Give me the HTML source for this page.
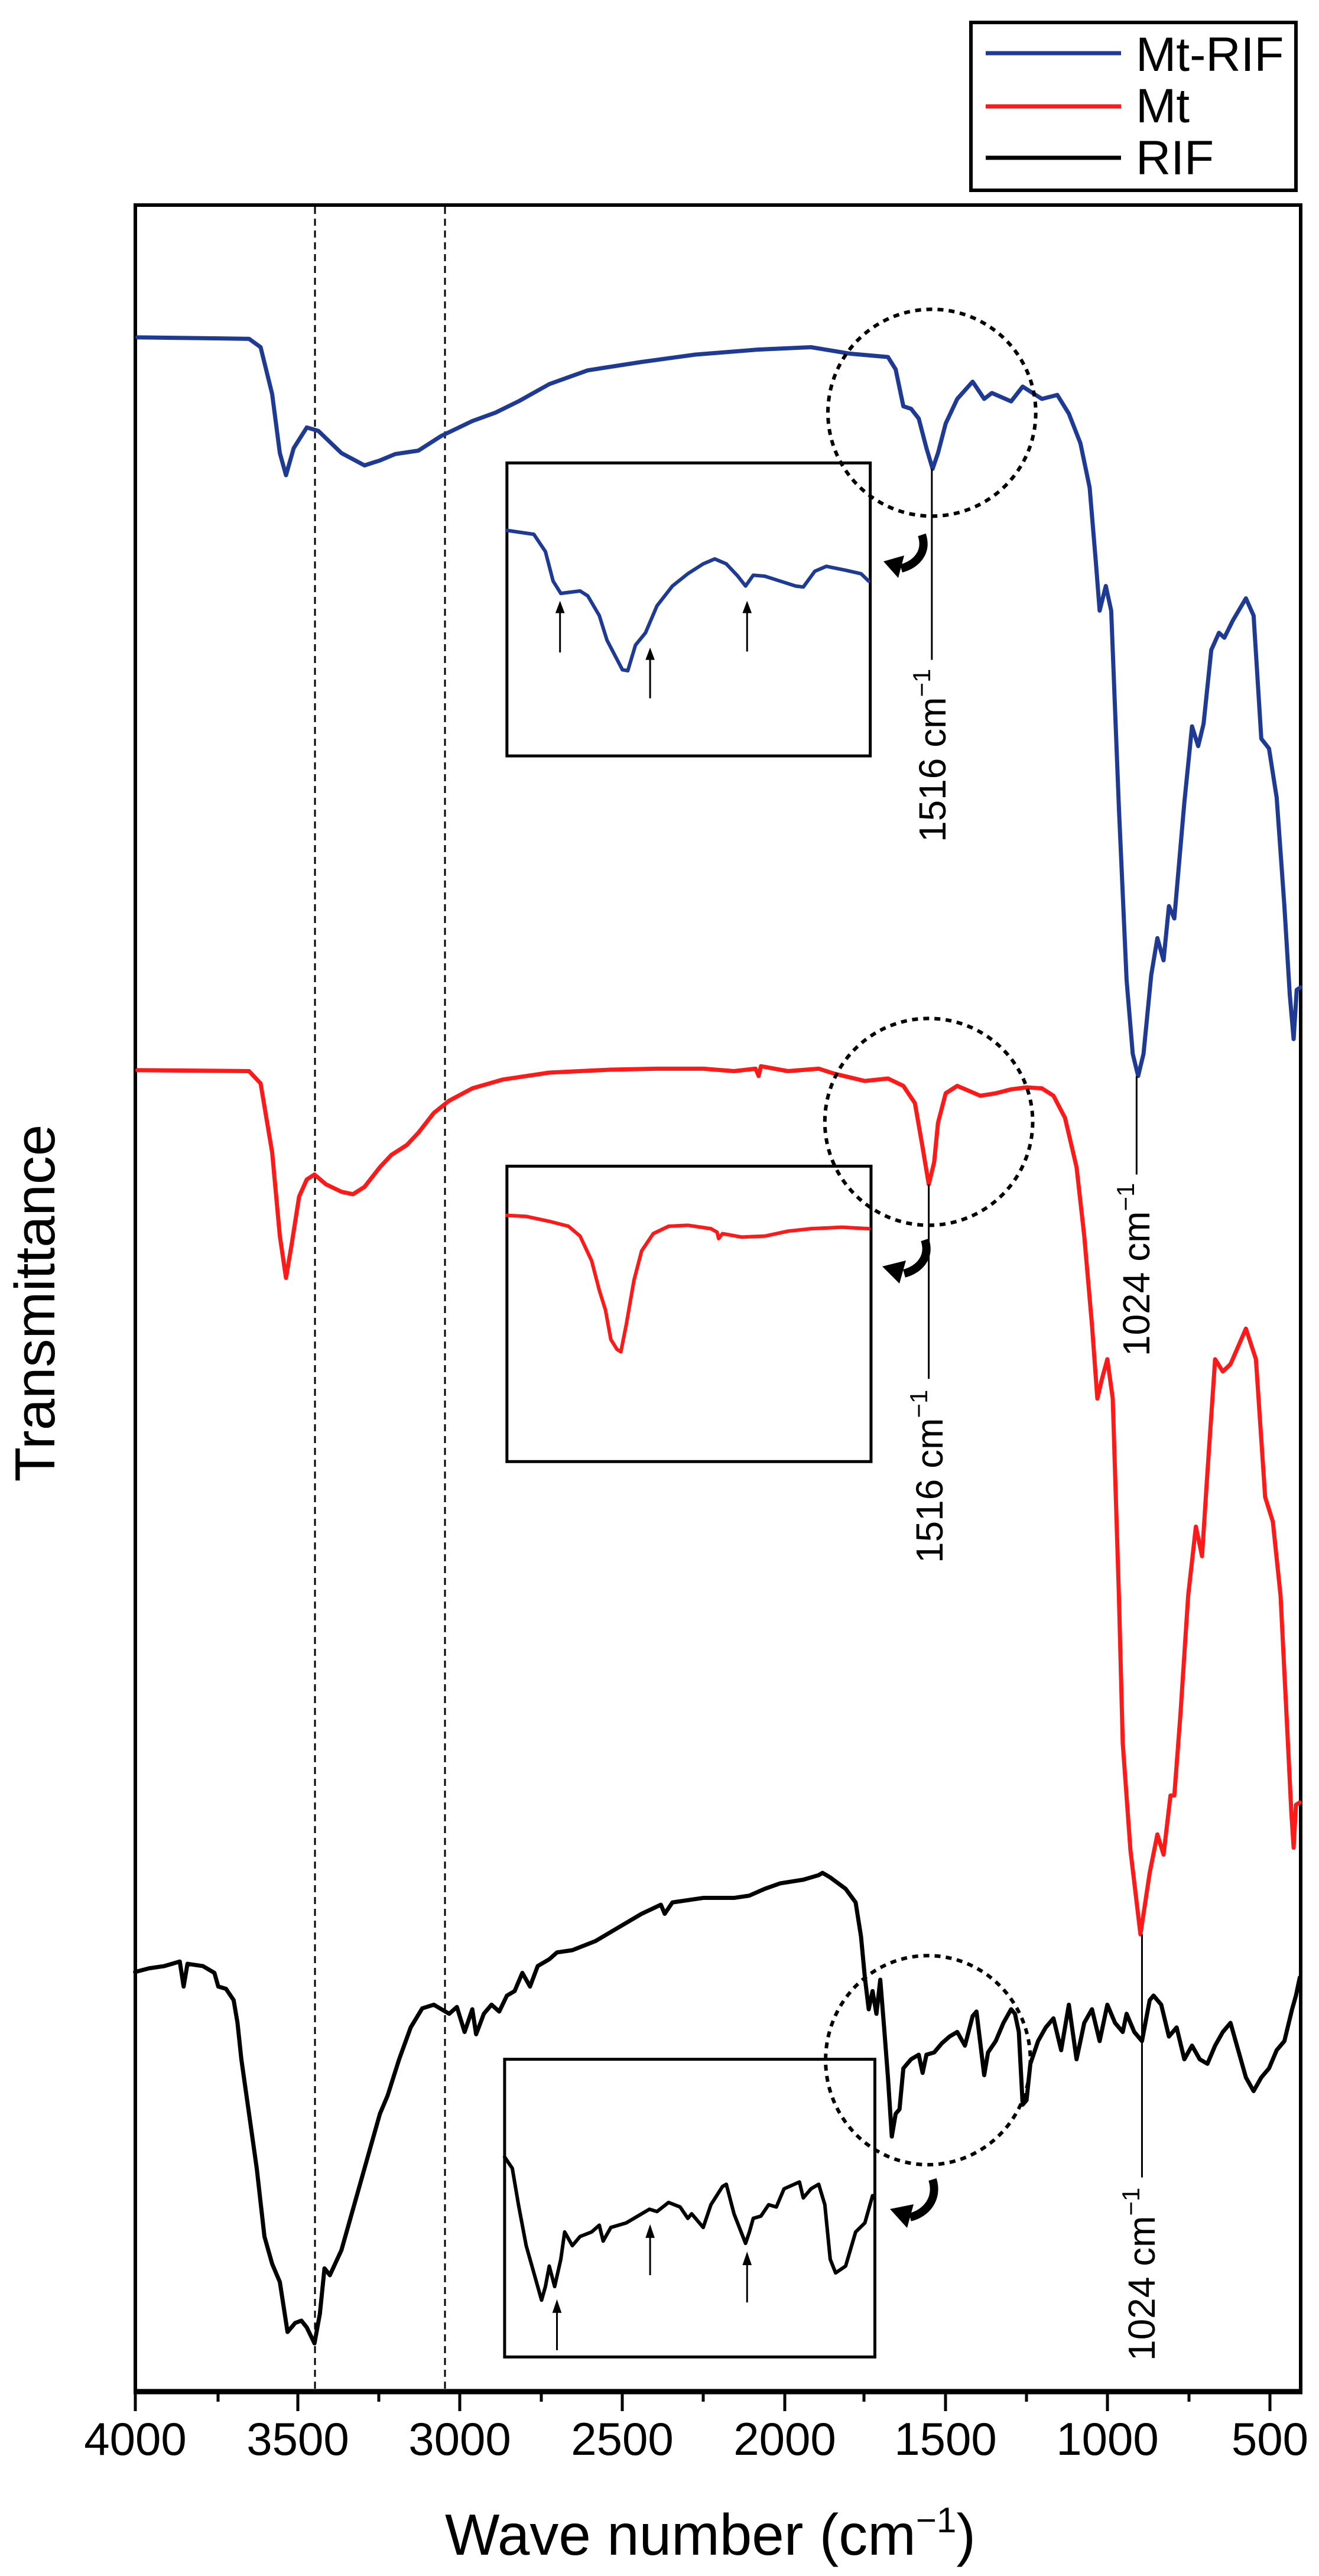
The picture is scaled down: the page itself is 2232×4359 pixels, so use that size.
<!DOCTYPE html>
<html><head><meta charset="utf-8"><style>
html,body{margin:0;padding:0;background:#fff;}
svg{display:block;}
text{font-family:"Liberation Sans",Arial,sans-serif;fill:#000;}
.c{fill:none;stroke-linejoin:round;stroke-linecap:round;}
</style></head><body>
<svg width="2232" height="4359" viewBox="0 0 2232 4359" xmlns="http://www.w3.org/2000/svg">
<rect width="2232" height="4359" fill="#fff"/>

<!-- legend -->
<rect x="1643" y="38" width="550" height="284" fill="none" stroke="#000" stroke-width="6"/>
<line x1="1668" y1="90" x2="1897" y2="90" stroke="#1f3a93" stroke-width="7"/>
<line x1="1668" y1="180" x2="1897" y2="180" stroke="#ff1a1a" stroke-width="7"/>
<line x1="1668" y1="267" x2="1897" y2="267" stroke="#000" stroke-width="7"/>
<text x="1922" y="120" font-size="82">Mt-RIF</text>
<text x="1922" y="207" font-size="82">Mt</text>
<text x="1922" y="295" font-size="82">RIF</text>

<!-- frame -->
<rect x="229" y="347" width="1972" height="3700" fill="none" stroke="#000" stroke-width="6"/>
<line x1="226" y1="4047" x2="2204" y2="4047" stroke="#000" stroke-width="9"/>

<!-- dashed lines -->
<line x1="533" y1="350" x2="533" y2="4044" stroke="#000" stroke-width="3" stroke-dasharray="12,8"/>
<line x1="753" y1="350" x2="753" y2="4044" stroke="#000" stroke-width="3" stroke-dasharray="12,8"/>

<!-- ticks -->
<g stroke="#000" stroke-width="5">
<line x1="229" y1="4047" x2="229" y2="4080"/><line x1="504" y1="4047" x2="504" y2="4080"/><line x1="778" y1="4047" x2="778" y2="4080"/><line x1="1053" y1="4047" x2="1053" y2="4080"/><line x1="1328" y1="4047" x2="1328" y2="4080"/><line x1="1600" y1="4047" x2="1600" y2="4080"/><line x1="1874" y1="4047" x2="1874" y2="4080"/><line x1="2149" y1="4047" x2="2149" y2="4080"/>
<line x1="369" y1="4047" x2="369" y2="4064"/><line x1="641" y1="4047" x2="641" y2="4064"/><line x1="916" y1="4047" x2="916" y2="4064"/><line x1="1190" y1="4047" x2="1190" y2="4064"/><line x1="1462" y1="4047" x2="1462" y2="4064"/><line x1="1737" y1="4047" x2="1737" y2="4064"/><line x1="2012" y1="4047" x2="2012" y2="4064"/>
</g>
<g font-size="78" text-anchor="middle">
<text x="229" y="4154">4000</text><text x="504" y="4154">3500</text><text x="778" y="4154">3000</text><text x="1053" y="4154">2500</text><text x="1328" y="4154">2000</text><text x="1600" y="4154">1500</text><text x="1874" y="4154">1000</text><text x="2149" y="4154">500</text>
</g>
<text x="1202" y="4323" font-size="98" text-anchor="middle">Wave number (cm<tspan dy="-38" font-size="60">−1</tspan><tspan dy="38">)</tspan></text>
<text transform="translate(92,2205) rotate(-90)" font-size="96" text-anchor="middle">Transmittance</text>

<!-- BLUE (zoom3 coords) -->
<g transform="translate(200,450) scale(1.3026,0.8333)">
<path class="c" stroke="#1f3a93" stroke-width="7" vector-effect="non-scaling-stroke" d="M25,145 L170,148 L185,165 L200,260 L210,380 L218,425 L228,370 L245,328 L260,335 L290,380 L320,405 L340,395 L360,382 L390,375 L420,345 L460,315 L490,298 L520,275 L560,240 L610,212 L680,195 L750,180 L830,170 L900,165 L950,178 L1000,185 L1010,210 L1020,285 L1030,290 L1040,310 L1050,370 L1058,412 L1065,380 L1075,320 L1090,270 L1110,235 L1125,270 L1135,258 L1160,275 L1175,245 L1190,260 L1200,270 L1220,262 L1235,300 L1250,360 L1262,450 L1270,600 L1275,700 L1283,650 L1290,700 L1300,1100 L1310,1450 L1318,1600 L1325,1645 L1332,1600 L1342,1440 L1350,1365 L1358,1410 L1365,1300 L1372,1325 L1385,1090 L1395,935 L1403,975 L1410,930 L1420,780 L1430,745 L1437,755 L1448,720 L1465,675 L1475,710 L1485,960 L1495,980 L1505,1080 L1515,1300 L1522,1480 L1527,1570 L1531,1470 L1536,1465"/>
<rect x="505" y="400" width="472" height="595" fill="none" stroke="#000" stroke-width="5" vector-effect="non-scaling-stroke"/>
<path class="c" stroke="#1f3a93" stroke-width="6" vector-effect="non-scaling-stroke" d="M505,537 L540,545 L555,580 L565,640 L575,665 L600,660 L610,670 L625,710 L635,760 L645,790 L655,820 L662,822 L672,770 L685,745 L700,690 L720,650 L740,625 L760,605 L775,595 L790,605 L805,630 L815,650 L825,628 L840,630 L860,640 L880,650 L890,652 L905,620 L920,610 L945,618 L965,625 L975,640"/>
<line x1="574" y1="785" x2="574" y2="685" stroke="#000" stroke-width="3" vector-effect="non-scaling-stroke"/>
<line x1="691" y1="878" x2="691" y2="783" stroke="#000" stroke-width="3" vector-effect="non-scaling-stroke"/>
<line x1="817" y1="783" x2="817" y2="685" stroke="#000" stroke-width="3" vector-effect="non-scaling-stroke"/>
<path d="M574,680 L568,705 L580,705Z M691,775 L685,800 L697,800Z M817,680 L811,705 L823,705Z" fill="#000"/>
<line x1="1057" y1="412" x2="1057" y2="800" stroke="#000" stroke-width="3" vector-effect="non-scaling-stroke"/>
<ellipse cx="1057" cy="298" rx="135" ry="210" fill="none" stroke="#000" stroke-width="6" stroke-dasharray="10,9" vector-effect="non-scaling-stroke"/>
</g>
<text transform="translate(1600,1425) rotate(-90)" font-size="64">1516 cm<tspan dy="-26" font-size="42">−1</tspan></text>
<path d="M1560,905 C1570,935 1550,955 1525,962" fill="none" stroke="#000" stroke-width="14"/>
<path d="M1495,950 L1530,940 L1520,978Z" fill="#000"/>

<!-- RED (zoom4 coords) -->
<g transform="translate(200,1700) scale(1.3026,0.8333)">
<path class="c" stroke="#ff1a1a" stroke-width="7" vector-effect="non-scaling-stroke" d="M25,133 L170,135 L185,160 L200,300 L210,470 L218,555 L225,490 L235,390 L245,355 L255,345 L270,365 L290,380 L305,385 L320,370 L340,330 L355,305 L375,285 L390,260 L410,220 L430,195 L460,170 L500,152 L560,138 L640,132 L700,130 L760,130 L800,135 L828,130 L832,145 L835,125 L870,135 L910,130 L930,140 L970,155 L1000,150 L1020,165 L1035,200 L1045,290 L1053,365 L1060,320 L1065,240 L1075,180 L1090,165 L1105,175 L1120,185 L1140,180 L1160,172 L1180,168 L1200,170 L1215,185 L1230,230 L1245,330 L1255,470 L1265,650 L1272,800 L1278,760 L1285,720 L1292,800 L1300,1200 L1305,1500 L1315,1717 L1328,1888 L1340,1763 L1350,1685 L1358,1726 L1367,1606 L1372,1606 L1380,1440 L1390,1200 L1400,1060 L1408,1120 L1415,950 L1425,720 L1435,745 L1445,730 L1465,658 L1478,720 L1490,1000 L1500,1050 L1510,1200 L1518,1450 L1524,1640 L1527,1712 L1530,1625 L1535,1620"/>
<rect x="505" y="328" width="473" height="600" fill="none" stroke="#000" stroke-width="5" vector-effect="non-scaling-stroke"/>
<path class="c" stroke="#ff1a1a" stroke-width="6" vector-effect="non-scaling-stroke" d="M505,428 L530,430 L560,440 L585,450 L600,470 L615,520 L625,580 L633,620 L640,680 L648,700 L653,705 L660,650 L670,560 L680,500 L695,465 L715,450 L740,448 L770,455 L778,462 L780,475 L785,465 L810,472 L840,470 L870,460 L900,455 L940,452 L975,455"/>
<line x1="1053" y1="365" x2="1053" y2="760" stroke="#000" stroke-width="3" vector-effect="non-scaling-stroke"/>
<line x1="1323" y1="145" x2="1323" y2="345" stroke="#000" stroke-width="3" vector-effect="non-scaling-stroke"/>
<ellipse cx="1053" cy="238" rx="135" ry="210" fill="none" stroke="#000" stroke-width="6" stroke-dasharray="10,9" vector-effect="non-scaling-stroke"/>
</g>
<text transform="translate(1595,2645) rotate(-90)" font-size="64">1516 cm<tspan dy="-26" font-size="42">−1</tspan></text>
<text transform="translate(1945,2295) rotate(-90)" font-size="64">1024 cm<tspan dy="-26" font-size="42">−1</tspan></text>
<path d="M1565,2098 C1575,2128 1555,2148 1530,2155" fill="none" stroke="#000" stroke-width="14"/>
<path d="M1493,2143 L1533,2133 L1522,2172Z" fill="#000"/>

<!-- BLACK (zoom5 coords) -->
<g transform="translate(200,2900) scale(1.3026,0.7692)">
<path class="c" stroke="#000" stroke-width="7" vector-effect="non-scaling-stroke" d="M22,568 L40,560 L60,555 L80,545 L85,600 L90,550 L110,555 L125,570 L130,600 L140,605 L150,630 L155,680 L160,760 L170,880 L180,1000 L190,1150 L200,1210 L210,1250 L220,1360 L230,1340 L238,1335 L245,1350 L255,1385 L262,1320 L268,1220 L275,1235 L290,1180 L300,1120 L320,1000 L340,880 L350,840 L365,760 L380,690 L395,648 L410,640 L420,650 L430,660 L440,645 L450,700 L460,650 L465,705 L475,660 L485,640 L495,655 L505,620 L515,610 L525,570 L535,600 L545,555 L560,540 L570,525 L590,520 L620,500 L650,470 L680,440 L705,420 L710,440 L720,415 L760,405 L800,405 L820,400 L840,385 L860,373 L890,365 L910,355 L915,350 L925,360 L945,385 L958,415 L965,490 L970,580 L975,650 L980,610 L985,660 L990,585 L995,690 L1000,800 L1005,930 L1010,880 L1015,870 L1020,780 L1030,760 L1040,750 L1045,790 L1050,750 L1060,745 L1070,725 L1080,710 L1090,700 L1100,730 L1110,665 L1115,655 L1125,795 L1130,745 L1140,720 L1150,680 L1160,650 L1165,660 L1170,700 L1175,860 L1180,850 L1185,770 L1195,720 L1205,690 L1215,670 L1225,740 L1235,640 L1245,760 L1255,680 L1265,650 L1275,720 L1285,640 L1295,680 L1305,700 L1310,660 L1320,700 L1330,720 L1340,630 L1345,620 L1355,640 L1365,710 L1375,690 L1385,760 L1395,730 L1405,760 L1415,770 L1425,730 L1435,700 L1445,680 L1455,740 L1465,800 L1475,830 L1485,800 L1495,780 L1505,740 L1515,720 L1525,650 L1530,620 L1535,580"/>
<rect x="502" y="760" width="481" height="655" fill="none" stroke="#000" stroke-width="5" vector-effect="non-scaling-stroke"/>
<path class="c" stroke="#000" stroke-width="6" vector-effect="non-scaling-stroke" d="M502,975 L512,1000 L520,1080 L530,1170 L540,1230 L550,1290 L555,1260 L560,1215 L567,1260 L575,1200 L580,1140 L590,1170 L600,1150 L615,1140 L625,1125 L630,1160 L640,1130 L660,1120 L680,1100 L690,1090 L700,1095 L715,1075 L730,1085 L740,1110 L745,1100 L760,1130 L770,1080 L785,1040 L790,1035 L800,1100 L815,1165 L820,1140 L825,1110 L835,1105 L845,1080 L855,1085 L865,1045 L885,1030 L890,1065 L900,1045 L910,1035 L918,1080 L925,1200 L932,1230 L945,1215 L958,1140 L970,1120 L980,1060"/>
<line x1="570" y1="1400" x2="570" y2="1300" stroke="#000" stroke-width="3" vector-effect="non-scaling-stroke"/>
<line x1="691" y1="1235" x2="691" y2="1135" stroke="#000" stroke-width="3" vector-effect="non-scaling-stroke"/>
<line x1="817" y1="1295" x2="817" y2="1195" stroke="#000" stroke-width="3" vector-effect="non-scaling-stroke"/>
<path d="M570,1288 L564,1318 L576,1318Z M691,1123 L685,1153 L697,1153Z M817,1183 L811,1213 L823,1213Z" fill="#000"/>
<line x1="1330" y1="485" x2="1330" y2="1020" stroke="#000" stroke-width="3" vector-effect="non-scaling-stroke"/>
<ellipse cx="1052" cy="762" rx="133" ry="230" fill="none" stroke="#000" stroke-width="6" stroke-dasharray="10,9" vector-effect="non-scaling-stroke"/>
</g>
<text transform="translate(1954,3995) rotate(-90)" font-size="64">1024 cm<tspan dy="-26" font-size="42">−1</tspan></text>
<path d="M1578,3688 C1588,3720 1568,3745 1540,3752" fill="none" stroke="#000" stroke-width="14"/>
<path d="M1506,3738 L1546,3730 L1535,3770Z" fill="#000"/>
</svg>
</body></html>
